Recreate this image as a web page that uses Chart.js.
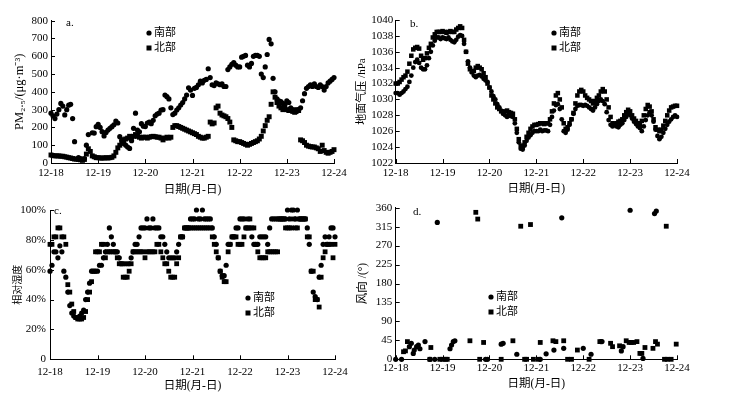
<!DOCTYPE html>
<html><head><meta charset="utf-8">
<script src="https://cdn.jsdelivr.net/npm/chart.js@4/dist/chart.umd.min.js"></script>
<style>
html,body{margin:0;padding:0;background:#fff;}
#wrap{position:relative;width:734px;height:394px;overflow:hidden;background:#fff;}
canvas{position:absolute;left:0;top:0;}
</style>
</head><body>
<div id="wrap">
<canvas id="ca" width="734" height="394"></canvas>
<canvas id="cb" width="734" height="394"></canvas>
<canvas id="cc" width="734" height="394"></canvas>
<canvas id="cd" width="734" height="394"></canvas>
</div>
<script>
// ---- tick labels / categories ----
const dayLabels = ['12-18','12-19','12-20','12-21','12-22','12-23','12-24'];
const seriesNames = ['南部','北部'];

// ---- a. PM2.5 (hourly, from 12-18 00:00) ----
const pmSouth = [
280,265,250,275,300,335,320,270,300,325,330,250,
120,null,30,25,22,25,100,160,null,170,168,204,
217,200,176,152,172,185,195,204,215,236,225,148,
130,110,100,90,82,125,195,280,185,175,221,207,
205,225,230,221,240,265,275,280,298,300,382,373,
360,310,272,280,298,310,326,340,360,382,423,410,
380,420,425,440,460,450,465,470,530,480,440,435,
450,445,440,445,430,430,525,540,555,565,550,540,
540,595,600,605,550,540,560,600,605,605,600,500,
480,540,610,695,670,476,400,360,350,345,335,330,
350,340,310,300,295,290,300,310,350,390,420,430,
440,430,445,430,425,440,430,410,430,450,460,470,
480];
const pmNorth = [
45,42,40,40,40,38,38,35,33,30,28,25,
22,22,20,18,15,20,50,80,65,40,35,30,
30,28,28,28,30,28,30,32,40,60,85,100,
115,130,135,140,150,145,150,160,150,145,140,145,
145,140,145,148,150,148,145,145,140,130,140,145,
140,145,200,210,210,205,200,195,190,185,180,175,
170,165,160,150,145,140,140,145,150,230,220,225,
310,320,280,270,265,260,250,230,200,130,125,120,
120,115,110,105,100,105,110,115,120,125,135,150,
180,210,240,260,330,400,370,340,320,310,300,310,
300,295,300,290,285,300,295,130,125,115,100,95,
92,90,90,85,80,65,100,70,60,55,60,65,
75];

// ---- b. surface pressure (hPa, hourly) ----
const presSouth = [
1030.8,1030.8,1030.6,1030.8,1031,1031.3,1031.6,1032.2,1033,1034,1034.7,1035,
1034.6,1034,1033.8,1033.8,1034.3,1035.2,1036,1036.8,1037.4,1037.8,1037.8,1037.6,
1037.8,1037.7,1037.6,1037.8,1037.5,1037.3,1037.2,1037.5,1037.9,1038.1,1038,1037,
1036,1034.8,1034,1033.4,1033,1032.8,1033,1033.1,1032.9,1032.6,1032.4,1032.2,
1031.5,1031,1030.4,1030,1029.4,1029,1028.6,1028.2,1028,1027.8,1028,1027.9,
1027.8,1027,1025.8,1024.6,1023.8,1023.7,1024.2,1024.8,1025.2,1025.5,1025.8,1026,
1026,1026,1026.2,1026,1026.1,1026.1,1026,1026.8,1027.8,1028.6,1029.3,1029.4,
1028.8,1027.5,1026,1025.8,1026.2,1026.8,1027.5,1028.2,1028.8,1029.2,1029.3,1029.3,
1029.2,1029.3,1029.2,1029,1028.8,1028.6,1029,1029.4,1029.8,1030,1029.8,1029.4,
1028.4,1027.4,1026.8,1026.6,1026.8,1026.6,1026.5,1026.8,1027,1027.4,1027.8,1028.2,
1028,1027.6,1027.2,1026.9,1026.6,1026.4,1026,1026.6,1027.4,1028,1028.4,1028,
1027.2,1026.2,1025.4,1025,1025.3,1025.8,1026.3,1026.8,1027.2,1027.5,1027.8,1028,
1027.8];
const presNorth = [
1032,1032,1032.2,1032.5,1032.8,1033,1033.5,1034.5,1035.5,1036.3,1036.5,1036.6,
1036.4,1035.5,1035,1035.2,1035.8,1036.5,1037,1037.8,1038.2,1038.5,1038.5,1038.5,
1038.6,1038.5,1038.4,1038.5,1038.6,1038.5,1038.5,1038.8,1039,1039.2,1039,1037.5,
1036,1034.5,1033.8,1033.5,1033.6,1034,1034.2,1034,1033.8,1033.3,1032.8,1032,
1031.5,1030.5,1030,1029.5,1029,1028.8,1028.5,1028.3,1028.5,1028.6,1028.4,1028.3,
1028.2,1027.5,1026.3,1025,1024.2,1024,1024.6,1025.3,1025.8,1026.3,1026.6,1026.8,
1026.8,1026.9,1027,1027,1026.9,1027,1027,1027.5,1028.5,1029.5,1030.5,1030.8,
1030,1029,1027,1026.3,1026.5,1027,1027.5,1028.3,1029.5,1030.5,1031,1031.2,
1031,1030.5,1030.2,1030,1029.8,1029.5,1029.8,1030.2,1030.5,1031,1031.3,1031,
1030,1029,1027.8,1027,1026.8,1027,1027.2,1027.3,1027.5,1028,1028.4,1028.7,
1028.5,1028,1027.6,1027.3,1027,1026.8,1027.3,1028,1028.8,1029.3,1029.1,1028.5,
1027.5,1026.5,1026.2,1026,1026.2,1026.7,1027.3,1028,1028.6,1029,1029.1,1029.2,
1029.2];

// ---- c. relative humidity (%, hourly) ----
const rhSouth = [
59,63,72,72,68,76,72,59,55,45,36,31,
29,28,28,29,31,33,40,45,51,59,59,59,
59,63,63,68,72,77,88,82,77,72,72,68,
64,64,64,64,64,68,72,77,77,82,88,88,
88,94,88,88,94,88,88,88,82,82,77,72,
68,68,68,68,72,77,82,82,88,88,88,94,
94,94,100,94,94,100,94,94,94,94,88,82,
77,68,59,56,56,63,77,77,82,82,88,88,
94,94,94,88,88,88,82,77,77,77,82,82,
82,82,77,88,94,94,94,94,94,94,94,94,
100,94,100,100,94,100,94,94,94,94,88,77,
59,45,42,40,55,63,77,82,77,82,88,88,
82];
const rhNorth = [
77,77,82,82,88,88,82,82,77,50,45,37,
32,28,27,27,27,28,32,40,45,52,59,72,
72,72,77,77,68,72,72,72,72,72,68,64,
64,55,55,55,59,64,72,72,72,72,72,72,
68,72,72,72,72,72,77,77,72,68,64,64,
59,55,55,55,64,68,82,82,88,88,88,88,
88,88,88,88,88,88,88,88,88,88,82,77,
72,68,59,55,52,52,72,77,82,82,82,77,
77,77,82,88,94,94,88,88,77,72,68,68,
68,68,72,72,72,72,72,72,94,94,94,88,
88,88,88,94,88,88,94,94,94,94,82,82,
59,59,40,40,35,55,68,72,77,77,77,68,
77];

// ---- d. wind direction (degrees) at observation hours ----
const wdSouthHour = [0,3,7,8,9,9.5,10.7,11.6,12.4,15,17.5,20,21.3,27.8,28.6,29.5,30.3,46,47,54,55,62,74,77,81,85,86,96,100,105,105.6,115.5,116.4,120,126.6,132.5,133.4];
const wdSouthDeg  = [0,0,30,38,14,22,30,34,25,42,0,0,325,25,34,42,44,0,0,36,38,12,0,13,22,336,26,26,12,42,42,20,30,354,2,346,352];
const wdNorthHour = [4,5,6,18,17.5,22.6,24,25.5,26.4,38,41,42,43,45,54,60,64,66,67,69,70.5,73,74,80.5,82,86,88,90,93,99,104.5,110,111,114.6,118,119.5,120.6,121.8,123.5,125,126,127.6,131.7,133,134,137.6,138.5,139,141,143.6];
const wdNorthDeg  = [18,20,42,28,0,0,0,0,0,44,349,333,0,40,0,44,316,0,0,320,0,0,40,44,42,44,0,0,22,0,42,38,30,32,44,40,40,40,42,14,14,28,26,42,36,0,316,0,0,36];

// ---- helpers ----
const SERIF = "'Liberation Serif','Noto Sans CJK SC',serif";
function hourly(arr){ return arr.map((v,i)=>({x:i,y:v})); }
function pairs(xs,ys){ return xs.map((x,i)=>({x:x,y:ys[i]})); }

const decor = {
  id:'decor',
  afterDraw(chart, args, o){
    const ctx = chart.ctx, xs = chart.scales.x, ys = chart.scales.y;
    ctx.save();
    ctx.strokeStyle = '#000'; ctx.lineWidth = 1;
    xs.ticks.forEach(t=>{
      const px = Math.round(xs.getPixelForValue(t.value)) + 0.5;
      ctx.beginPath(); ctx.moveTo(px, ys.bottom); ctx.lineTo(px, ys.bottom - 4); ctx.stroke();
    });
    ys.ticks.forEach(t=>{
      const py = Math.round(ys.getPixelForValue(t.value)) + 0.5;
      ctx.beginPath(); ctx.moveTo(xs.left, py); ctx.lineTo(xs.left + 4, py); ctx.stroke();
    });
    ctx.fillStyle = '#000';
    ctx.textBaseline = 'middle'; ctx.textAlign = 'left';
    ctx.font = '11px ' + SERIF;
    ctx.fillText(o.letter, o.lx, o.ly);
    // legend
    const gx = o.gx, gy = o.gy;
    ctx.beginPath(); ctx.arc(gx, gy, 2.6, 0, Math.PI*2); ctx.fill();
    ctx.fillRect(gx-2.5, gy+15-2.5, 5, 5);
    ctx.font = '11px ' + SERIF;
    ctx.fillText(seriesNames[0], gx+5, gy);
    ctx.fillText(seriesNames[1], gx+5, gy+15);
    ctx.restore();
  }
};

function makePanel(id, p){
  const font = {family: SERIF, size: 11};
  return new Chart(document.getElementById(id), {
    type:'scatter',
    data:{ datasets:[
      {label:seriesNames[0], data:p.south, pointStyle:'circle', pointRadius:p.rc, backgroundColor:'#000', borderColor:'#000', pointBorderWidth:0, showLine:false, clip:false},
      {label:seriesNames[1], data:p.north, pointStyle:'rect', pointRadius:p.rs, backgroundColor:'#000', borderColor:'#000', pointBorderWidth:0, showLine:false, clip:false}
    ]},
    options:{
      responsive:false, animation:false, devicePixelRatio:1,
      events:[],
      layout:{padding:p.pad},
      plugins:{legend:{display:false}, tooltip:{enabled:false}, decor:p.decor},
      scales:{
        x:{type:'linear', min:0, max:144,
           ticks:{stepSize:24, autoSkip:false, maxRotation:0, padding:p.xTickPad, color:'#000', font:font,
                  callback:(v)=>dayLabels[Math.round(v/24)]},
           grid:{display:false, drawTicks:false},
           border:{display:true, color:'#000', width:1},
           title:{display:true, text:'日期(月-日)', color:'#000', font:{family:SERIF,size:11.5}, padding:{top:0,bottom:p.xTitlePad}},
           afterFit:(s)=>{ s.height = p.xH; }
        },
        y:{type:'linear', min:p.yMin, max:p.yMax,
           ticks:{stepSize:p.yStep, autoSkip:false, padding:p.yTickPad, color:'#000', font:font, callback:p.yCb},
           grid:{display:false, drawTicks:false},
           border:{display:true, color:'#000', width:1},
           title:{display:true, text:p.yTitle, color:'#000', font:{family:SERIF,size:p.yTitleSize}, padding:{top:p.yTitlePad,bottom:0}},
           afterFit:(s)=>{ s.width = p.yW; }
        }
      }
    },
    plugins:[decor]
  });
}

makePanel('ca', {
  south:hourly(pmSouth), north:hourly(pmNorth), rc:2.6, rs:3.5,
  yMin:0, yMax:800, yStep:100, yCb:(v)=>String(v),
  yTitle:'PM₂.₅/(μg·m⁻³)', yTitleSize:12.5, yTitlePad:12.5,
  pad:{left:0, top:20.7, right:400, bottom:195}, yW:51, xH:36, xTickPad:3.4, xTitlePad:1.8, yTickPad:3,
  decor:{letter:'a.', lx:66, ly:23, gx:149, gy:33}
});
makePanel('cb', {
  south:hourly(presSouth), north:hourly(presNorth), rc:2.4, rs:3.2,
  yMin:1022, yMax:1040, yStep:2, yCb:(v)=>String(v),
  yTitle:'地面气压 /hPa', yTitleSize:11, yTitlePad:0,
  pad:{left:355.7, top:20, right:57, bottom:195}, yW:40, xH:36, xTickPad:3.4, xTitlePad:2.8, yTickPad:2.4,
  decor:{letter:'b.', lx:410, ly:24, gx:554, gy:33}
});
makePanel('cc', {
  south:hourly(rhSouth), north:hourly(rhNorth), rc:2.6, rs:3.4,
  yMin:0, yMax:100, yStep:20, yCb:(v)=> v===0 ? '0' : v + '%',
  yTitle:'相对湿度', yTitleSize:10, yTitlePad:12,
  pad:{left:0, top:210, right:399, bottom:0}, yW:50, xH:34.7, xTickPad:6.1, xTitlePad:1.1, yTickPad:4,
  decor:{letter:'c.', lx:54, ly:211, gx:248, gy:298}
});
makePanel('cd', {
  south:pairs(wdSouthHour, wdSouthDeg), north:pairs(wdNorthHour, wdNorthDeg), rc:2.6, rs:3.4,
  yMin:0, yMax:360, yStep:45, yCb:(v)=>String(v),
  yTitle:'风向 /(°)', yTitleSize:11.5, yTitlePad:0,
  pad:{left:355.7, top:207.7, right:57, bottom:0}, yW:40, xH:34.7, xTickPad:2.1, xTitlePad:2.8, yTickPad:3.4,
  decor:{letter:'d.', lx:413, ly:212, gx:491, gy:297}
});
</script>
</body></html>
